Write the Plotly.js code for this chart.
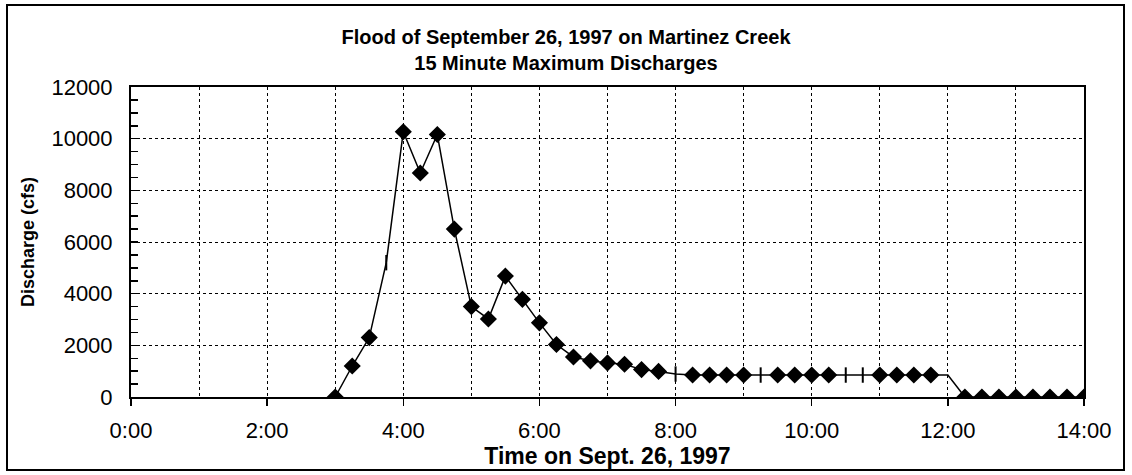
<!DOCTYPE html>
<html>
<head>
<meta charset="utf-8">
<script src="https://cdn.plot.ly/plotly-3.0.1.min.js"></script>
<style>
  html, body { margin: 0; padding: 0; background: #fff; }
  #chart { width: 1132px; height: 475px; }
</style>
</head>
<body>
<div id="chart"></div>
<script>
// ---- data ----
const times = [
  "3:00","3:15","3:30","3:45","4:00","4:15","4:30","4:45",
  "5:00","5:15","5:30","5:45","6:00","6:15","6:30","6:45",
  "7:00","7:15","7:30","7:45","8:00","8:15","8:30","8:45",
  "9:00","9:15","9:30","9:45","10:00","10:15","10:30","10:45",
  "11:00","11:15","11:30","11:45","12:00","12:15","12:30","12:45",
  "13:00","13:15","13:30","13:45","14:00"
];
const discharge = [
  0, 1200, 2300, 5200, 10270, 8670, 10160, 6500,
  3500, 3020, 4680, 3780, 2870, 2030, 1550, 1400,
  1320, 1270, 1060, 990, 890, 850, 850, 850,
  850, 850, 850, 850, 850, 850, 850, 850,
  850, 850, 850, 850, 850, 0, 0, 0,
  0, 0, 0, 0, 0
];
// points drawn in the reference with only a short tick instead of a diamond
const tickOnlyTimes = ["3:45", "8:00", "9:15", "10:30", "10:45"];
const noMarkerTimes = ["12:00"];

const xTickLabels = ["0:00","2:00","4:00","6:00","8:00","10:00","12:00","14:00"];
const yTickValues = [0, 2000, 4000, 6000, 8000, 10000, 12000];

function toHours(s) { const p = s.split(":"); return (+p[0]) + (+p[1]) / 60; }
const xHours = times.map(toHours);
const xTickVals = xTickLabels.map(toHours);

const symbols = times.map(t => tickOnlyTimes.includes(t) || noMarkerTimes.includes(t) ? "line-ns" : "diamond");
const sizes = times.map(t => noMarkerTimes.includes(t) ? 0 : 11);

const font = "Liberation Sans, Arial, sans-serif";

const trace = {
  x: xHours,
  y: discharge,
  type: "scatter",
  mode: "lines+markers",
  line: { color: "#000", width: 1.5 },
  marker: {
    symbol: symbols,
    size: sizes,
    color: "#000",
    opacity: 1,
    line: { color: "#000", width: 2 }
  },
  hoverinfo: "x+y",
  showlegend: false
};

const L = 131, R = 48, T = 87, B = 78, W = 1132, H = 475;
const pw = W - L - R, ph = H - T - B;
const px = v => (v - L) / pw;
const py = v => (H - B - v) / ph;

const layout = {
  width: W, height: H,
  margin: { l: L, r: R, t: T, b: B, pad: 0 },
  paper_bgcolor: "#fff",
  plot_bgcolor: "#fff",
  font: { family: font, color: "#000", size: 22 },
  title: {
    text: "<b>Flood of September 26, 1997 on Martinez Creek<br>15 Minute Maximum Discharges</b>",
    font: { family: font, size: 20, color: "#000" },
    x: 0.5, xref: "container", xanchor: "center",
    y: 1 - 44 / H, yref: "container", yanchor: "top"
  },
  xaxis: {
    range: [0, 14],
    tickvals: xTickVals,
    ticktext: xTickLabels,
    ticks: "outside", ticklen: 7, tickwidth: 1.5, tickcolor: "#000",
    ticklabelstandoff: 6,
    showline: true, linecolor: "#000", linewidth: 2, mirror: true,
    showgrid: true, gridcolor: "#000", gridwidth: 1, griddash: "dot",
    minor: { dtick: 1, showgrid: true, gridcolor: "#000", gridwidth: 1, griddash: "dot", ticks: "" },
    zeroline: false,
    tickfont: { family: font, size: 22, color: "#000" },
    title: { text: "<b>Time on Sept. 26, 1997</b>", font: { family: font, size: 23, color: "#000" }, standoff: 3 },
    fixedrange: true
  },
  yaxis: {
    range: [0, 12000],
    tickvals: yTickValues,
    ticktext: yTickValues.map(String),
    ticks: "inside", ticklen: 7, tickwidth: 1.5, tickcolor: "#000",
    ticklabelstandoff: 12,
    minor: { dtick: 500, ticks: "inside", ticklen: 7, tickwidth: 1.5, tickcolor: "#000", showgrid: false },
    showline: true, linecolor: "#000", linewidth: 2, mirror: true,
    showgrid: true, gridcolor: "#000", gridwidth: 1, griddash: "dot",
    zeroline: false,
    tickfont: { family: font, size: 22, color: "#000" },
    title: { text: "<b>Discharge (cfs)</b>", font: { family: font, size: 18, color: "#000" }, standoff: 12 },
    fixedrange: true
  },
  shapes: [{
    type: "rect", xref: "paper", yref: "paper",
    x0: px(7), x1: px(1124), y0: py(470), y1: py(5),
    line: { color: "#000", width: 2 }, fillcolor: "rgba(0,0,0,0)", layer: "below"
  }]
};

Plotly.newPlot("chart", [trace], layout, { displayModeBar: false, staticPlot: true });
</script>
</body>
</html>
